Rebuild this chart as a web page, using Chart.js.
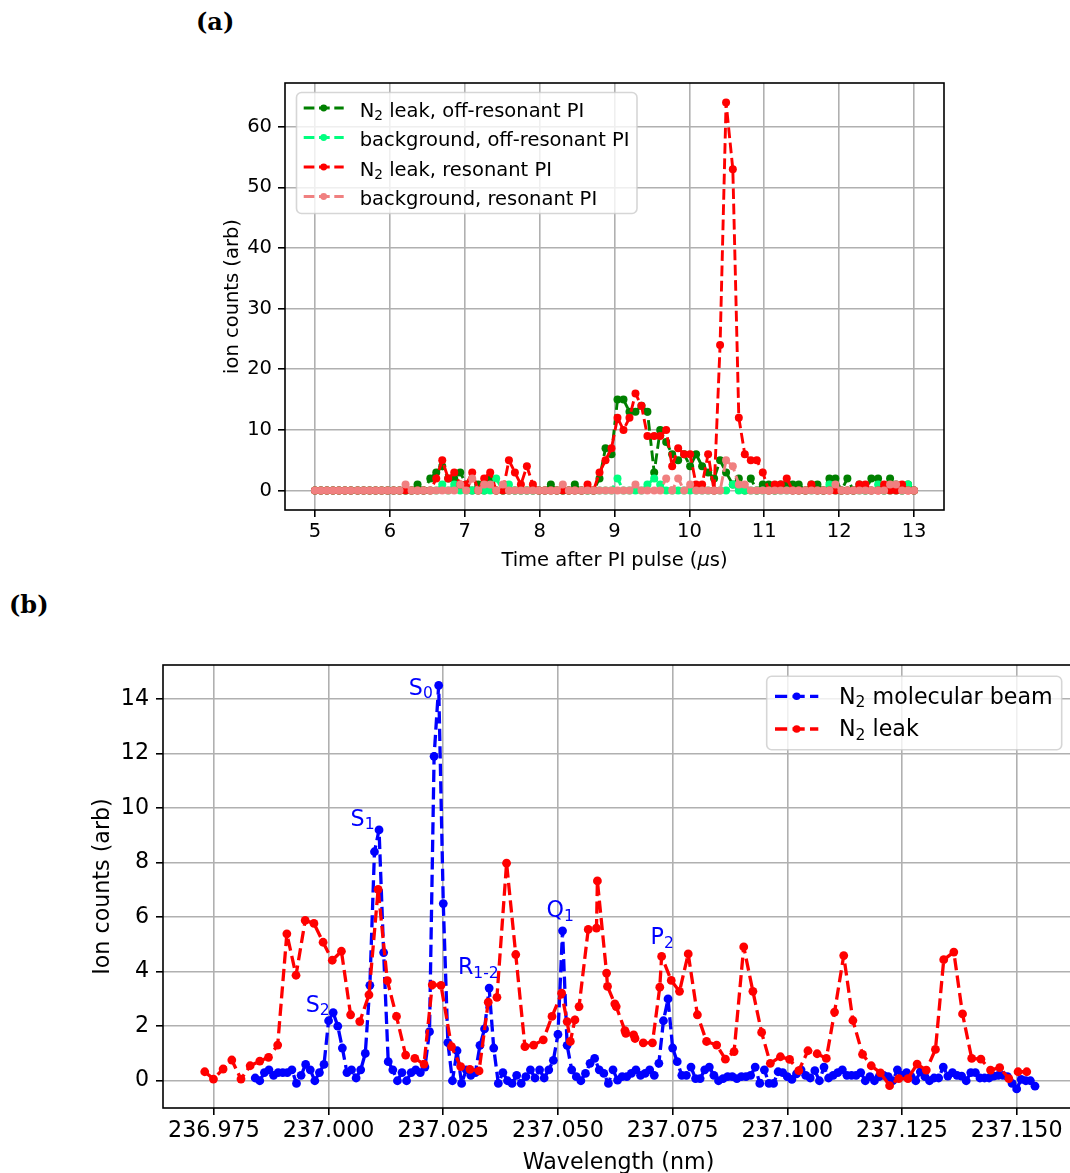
<!DOCTYPE html>
<html>
<head>
<meta charset="utf-8">
<script src="https://cdn.jsdelivr.net/npm/chart.js@4.4.1/dist/chart.umd.min.js"></script>
<style>
html, body { margin: 0; padding: 0; width: 1070px; height: 1173px; overflow: hidden; background: #fff; }
canvas { position: absolute; left: 0; }
#chartA { top: 0; }
#chartB { top: 590px; }
.panel { position: absolute; font: bold 24px "DejaVu Serif", serif; line-height: 28px; color: #000; }
</style>
</head>
<body>
<div class="panel" style="left:196px; top:8px;">(a)</div>
<div class="panel" style="left:9px; top:591px;">(b)</div>
<canvas id="chartA" width="1070" height="590"></canvas>
<canvas id="chartB" width="1100" height="583"></canvas>
<script>
// ---- (a) time of flight traces ----
const timeUs = [
  5.00, 5.08, 5.16, 5.24, 5.32, 5.40, 5.48, 5.57, 5.65, 5.73,
  5.81, 5.89, 5.97, 6.05, 6.13, 6.21, 6.29, 6.37, 6.45, 6.54,
  6.62, 6.70, 6.78, 6.86, 6.94, 7.02, 7.10, 7.18, 7.26, 7.34,
  7.42, 7.51, 7.59, 7.67, 7.75, 7.83, 7.91, 7.99, 8.07, 8.15,
  8.23, 8.31, 8.39, 8.47, 8.56, 8.64, 8.72, 8.80, 8.88, 8.96,
  9.04, 9.12, 9.20, 9.28, 9.36, 9.44, 9.53, 9.61, 9.69, 9.77,
  9.85, 9.93, 10.01, 10.09, 10.17, 10.25, 10.33, 10.41, 10.49, 10.58,
  10.66, 10.74, 10.82, 10.90, 10.98, 11.06, 11.14, 11.22, 11.30, 11.38,
  11.46, 11.55, 11.63, 11.71, 11.79, 11.87, 11.95, 12.03, 12.11, 12.19,
  12.27, 12.35, 12.43, 12.52, 12.60, 12.68, 12.76, 12.84, 12.92, 13.00
];
const offResLeak = [
  0, 0, 0, 0, 0, 0, 0, 0, 0, 0,
  0, 0, 0, 0, 0, 0, 0, 1, 0, 2,
  3, 4, 2, 2, 3, 1, 0, 1, 0, 2,
  0, 0, 0, 0, 0, 0, 0, 0, 0, 1,
  0, 0, 0, 1, 0, 0, 0, 2, 7, 6,
  15, 15, 13, 13, 14, 13, 3, 10, 8, 6,
  5, 6, 4, 6, 4, 3, 2, 5, 3, 1,
  2, 0, 2, 0, 1, 1, 0, 1, 1, 1,
  1, 0, 1, 1, 0, 2, 2, 0, 2, 0,
  1, 0, 2, 2, 0, 2, 1, 0, 1, 0
];
const offResBg = [
  0, 0, 0, 0, 0, 0, 0, 0, 0, 0,
  0, 0, 0, 0, 0, 0, 0, 0, 0, 0,
  0, 1, 0, 1, 0, 0, 0, 0, 0, 0,
  2, 0, 1, 0, 0, 0, 0, 0, 0, 0,
  0, 0, 0, 0, 0, 0, 0, 0, 0, 0,
  2, 0, 0, 0, 0, 1, 2, 1, 0, 0,
  0, 0, 0, 0, 0, 0, 0, 0, 0, 1,
  0, 0, 0, 0, 0, 0, 0, 0, 0, 0,
  0, 0, 0, 0, 0, 1, 0, 0, 0, 0,
  0, 0, 0, 1, 0, 0, 0, 0, 1, 0
];
const resLeak = [
  0, 0, 0, 0, 0, 0, 0, 0, 0, 0,
  0, 0, 0, 0, 0, 0, 0, 0, 0, 0,
  2, 5, 2, 3, 1, 1, 3, 0, 2, 3,
  0, 0, 5, 3, 1, 4, 1, 0, 0, 0,
  0, 0, 0, 0, 0, 1, 0, 3, 5, 7,
  12, 10, 12, 16, 14, 9, 9, 9, 10, 4,
  7, 6, 6, 1, 1, 6, 0, 24, 64, 53,
  12, 6, 5, 5, 3, 0, 1, 1, 2, 0,
  0, 0, 1, 0, 0, 0, 0, 0, 0, 0,
  1, 1, 0, 0, 1, 0, 0, 1, 0, 0
];
const resBg = [
  0, 0, 0, 0, 0, 0, 0, 0, 0, 0,
  0, 0, 0, 0, 0, 1, 0, 0, 0, 0,
  0, 0, 0, 0, 1, 0, 2, 0, 1, 1,
  0, 1, 0, 0, 0, 0, 0, 0, 0, 0,
  0, 1, 0, 0, 0, 0, 0, 0, 0, 0,
  0, 0, 0, 1, 0, 0, 0, 0, 2, 0,
  2, 0, 1, 0, 0, 0, 0, 0, 5, 4,
  1, 1, 0, 0, 0, 0, 0, 0, 0, 0,
  0, 0, 0, 0, 0, 0, 1, 0, 0, 0,
  0, 0, 0, 0, 0, 1, 1, 0, 0, 0
];
const timeTicks = [5, 6, 7, 8, 9, 10, 11, 12, 13];
const countTicksA = [0, 10, 20, 30, 40, 50, 60];

// ---- (b) wavelength scans ----
const beamWl = [
  236.984, 236.985, 236.986, 236.987, 236.988, 236.989, 236.990, 236.991, 236.992, 236.993,
  236.994, 236.995, 236.996, 236.997, 236.998, 236.999, 237.000, 237.001, 237.002, 237.003,
  237.004, 237.005, 237.006, 237.007, 237.008, 237.009, 237.010, 237.011, 237.012, 237.013,
  237.014, 237.015, 237.016, 237.017, 237.018, 237.019, 237.020, 237.021, 237.022, 237.023,
  237.024, 237.025, 237.026, 237.027, 237.028, 237.029, 237.030, 237.031, 237.032, 237.033,
  237.034, 237.035, 237.036, 237.037, 237.038, 237.039, 237.040, 237.041, 237.042, 237.043,
  237.044, 237.045, 237.046, 237.047, 237.048, 237.049, 237.050, 237.051, 237.052, 237.053,
  237.054, 237.055, 237.056, 237.057, 237.058, 237.059, 237.060, 237.061, 237.062, 237.063,
  237.064, 237.065, 237.066, 237.067, 237.068, 237.069, 237.070, 237.071, 237.072, 237.073,
  237.074, 237.075, 237.076, 237.077, 237.078, 237.079, 237.080, 237.081, 237.082, 237.083,
  237.084, 237.085, 237.086, 237.087, 237.088, 237.089, 237.090, 237.091, 237.092, 237.093,
  237.094, 237.095, 237.096, 237.097, 237.098, 237.099, 237.100, 237.101, 237.102, 237.103,
  237.104, 237.105, 237.106, 237.107, 237.108, 237.109, 237.110, 237.111, 237.112, 237.113,
  237.114, 237.115, 237.116, 237.117, 237.118, 237.119, 237.120, 237.121, 237.122, 237.123,
  237.124, 237.125, 237.126, 237.127, 237.128, 237.129, 237.130, 237.131, 237.132, 237.133,
  237.134, 237.135, 237.136, 237.137, 237.138, 237.139, 237.140, 237.141, 237.142, 237.143,
  237.144, 237.145, 237.146, 237.147, 237.148, 237.149, 237.150, 237.151, 237.152, 237.153,
  237.154
];
const beamCounts = [
  0.10, 0.00, 0.30, 0.40, 0.20, 0.30, 0.30, 0.30, 0.40, -0.10,
  0.20, 0.60, 0.40, 0.00, 0.30, 0.60, 2.20, 2.50, 2.00, 1.20,
  0.30, 0.40, 0.10, 0.40, 1.00, 3.50, 8.40, 9.20, 4.70, 0.70,
  0.40, 0.00, 0.30, 0.00, 0.30, 0.40, 0.30, 0.50, 1.80, 11.90,
  14.50, 6.50, 1.40, 0.00, 1.10, -0.10, 0.40, 0.20, 0.30, 1.30,
  1.90, 3.40, 1.20, -0.10, 0.30, 0.00, -0.10, 0.20, -0.10, 0.15,
  0.40, 0.10, 0.40, 0.10, 0.40, 0.75, 1.70, 5.50, 1.30, 0.40,
  0.15, 0.00, 0.27, 0.64, 0.82, 0.40, 0.27, -0.10, 0.40, 0.02,
  0.15, 0.15, 0.27, 0.40, 0.20, 0.27, 0.40, 0.20, 0.64, 2.20,
  3.00, 1.20, 0.70, 0.20, 0.20, 0.50, 0.08, 0.08, 0.40, 0.50,
  0.20, 0.00, 0.08, 0.15, 0.15, 0.08, 0.15, 0.15, 0.20, 0.50,
  -0.10, 0.40, -0.10, -0.10, 0.33, 0.30, 0.15, 0.05, 0.25, 0.40,
  0.20, 0.10, 0.37, 0.00, 0.50, 0.10, 0.20, 0.30, 0.40, 0.20,
  0.20, 0.20, 0.30, 0.00, 0.15, 0.00, 0.15, 0.20, 0.15, 0.00,
  0.40, 0.20, 0.30, 0.15, 0.00, 0.33, 0.15, 0.00, 0.10, 0.10,
  0.50, 0.17, 0.30, 0.20, 0.17, 0.00, 0.30, 0.30, 0.10, 0.10,
  0.10, 0.17, 0.20, 0.20, 0.15, -0.10, -0.30, 0.05, 0.00, 0.00,
  -0.20
];
const leakWl = [
  236.9730, 236.9749, 236.9770, 236.9789, 236.9809, 236.9829, 236.9850, 236.9869, 236.9889, 236.9909,
  236.9929, 236.9949, 236.9968, 236.9988, 237.0008, 237.0028, 237.0048, 237.0068, 237.0088, 237.0108,
  237.0128, 237.0148, 237.0168, 237.0188, 237.0208, 237.0226, 237.0245, 237.0268, 237.0288, 237.0308,
  237.0328, 237.0348, 237.0367, 237.0388, 237.0408, 237.0428, 237.0447, 237.0468, 237.0487, 237.0508,
  237.0520, 237.0527, 237.0537, 237.0546, 237.0566, 237.0584, 237.0586, 237.0606, 237.0608, 237.0624,
  237.0627, 237.0646, 237.0648, 237.0665, 237.0668, 237.0686, 237.0706, 237.0722, 237.0726, 237.0747,
  237.0765, 237.0784, 237.0804, 237.0824, 237.0846, 237.0865, 237.0884, 237.0905, 237.0925, 237.0944,
  237.0963, 237.0985, 237.1005, 237.1025, 237.1045, 237.1065, 237.1085, 237.1103, 237.1123, 237.1143,
  237.1164, 237.1183, 237.1203, 237.1223, 237.1243, 237.1263, 237.1283, 237.1303, 237.1323, 237.1341,
  237.1363, 237.1382, 237.1402, 237.1422, 237.1443, 237.1463, 237.1483, 237.1503, 237.1522
];
const leakCounts = [
  0.33, 0.06, 0.43, 0.76, 0.06, 0.55, 0.72, 0.86, 1.31, 5.39,
  3.87, 5.88, 5.77, 5.08, 4.42, 4.75, 2.42, 2.17, 3.15, 7.02,
  3.67, 2.36, 0.94, 0.82, 0.61, 3.52, 3.50, 1.25, 0.52, 0.42,
  0.36, 2.88, 3.06, 7.98, 4.63, 1.25, 1.31, 1.50, 2.36, 3.21,
  2.17, 1.44, 2.23, 2.72, 5.55, 5.60, 7.33, 3.95, 3.46, 2.82,
  2.72, 1.84, 1.74, 1.68, 1.55, 1.39, 1.39, 3.43, 4.56, 3.68,
  3.28, 4.65, 2.42, 1.44, 1.31, 0.79, 1.07, 4.91, 3.28, 1.77,
  0.64, 0.88, 0.78, 0.37, 1.10, 0.99, 0.82, 2.52, 4.59, 2.21,
  0.97, 0.55, 0.29, -0.18, 0.08, 0.08, 0.61, 0.39, 1.15, 4.44,
  4.72, 2.45, 0.82, 0.79, 0.39, 0.48, 0.08, 0.33, 0.33
];
const wlTicks = [236.975, 237.000, 237.025, 237.050, 237.075, 237.100, 237.125, 237.150];
const countTicksB = [0, 2, 4, 6, 8, 10, 12, 14];

// line names next to the beam peaks, placed at (left wavelength, centre counts)
const peakNames = ['S_{2}', 'S_{1}', 'S_{0}', 'R_{1-2}', 'Q_{1}', 'P_{2}'];
const peakNameWl = [236.9950, 237.0048, 237.0175, 237.0282, 237.0475, 237.0702];
const peakNameY = [2.82, 9.65, 14.45, 4.2, 6.3, 5.3];

const FONT = '"DejaVu Sans", sans-serif';

function fontStr(size, italic) {
  return (italic ? 'italic ' : '') + size + 'px ' + FONT;
}

// "N_{2} leak" -> runs of plain / subscript / *italic* text
function parseRuns(s) {
  const out = [];
  const re = /_\{([^}]*)\}|\*([^*]*)\*/g;
  let last = 0, m;
  while ((m = re.exec(s))) {
    if (m.index > last) out.push({ t: s.slice(last, m.index) });
    if (m[1] !== undefined) out.push({ t: m[1], sub: true });
    else out.push({ t: m[2], it: true });
    last = re.lastIndex;
  }
  if (last < s.length) out.push({ t: s.slice(last) });
  return out;
}

function drawRuns(ctx, text, x, y, size, color, align) {
  const runs = parseRuns(text);
  ctx.save();
  ctx.fillStyle = color;
  ctx.textBaseline = 'alphabetic';
  ctx.textAlign = 'left';
  let total = 0;
  const widths = runs.map(r => {
    ctx.font = fontStr(r.sub ? size * 0.7 : size, r.it);
    const w = ctx.measureText(r.t).width;
    total += w;
    return w;
  });
  let cx = align === 'center' ? x - total / 2 : align === 'right' ? x - total : x;
  runs.forEach((r, i) => {
    ctx.font = fontStr(r.sub ? size * 0.7 : size, r.it);
    ctx.fillText(r.t, cx, r.sub ? y + size * 0.16 : y);
    cx += widths[i];
  });
  ctx.restore();
}

function roundRectPath(ctx, x, y, w, h, r) {
  ctx.beginPath();
  ctx.moveTo(x + r, y);
  ctx.lineTo(x + w - r, y);
  ctx.arcTo(x + w, y, x + w, y + r, r);
  ctx.lineTo(x + w, y + h - r);
  ctx.arcTo(x + w, y + h, x + w - r, y + h, r);
  ctx.lineTo(x + r, y + h);
  ctx.arcTo(x, y + h, x, y + h - r, r);
  ctx.lineTo(x, y + r);
  ctx.arcTo(x, y, x + r, y, r);
  ctx.closePath();
}

// black box round the plot area, drawn over the data like matplotlib spines
const framePlugin = {
  id: 'frame',
  afterDatasetsDraw(chart) {
    const a = chart.chartArea, ctx = chart.ctx;
    ctx.save();
    ctx.strokeStyle = '#000';
    ctx.lineWidth = 1.6;
    ctx.strokeRect(a.left, a.top, a.right - a.left, a.bottom - a.top);
    ctx.restore();
  }
};

function axisTitlePlugin(cfg) {
  return {
    id: 'axisTitles',
    afterDraw(chart) {
      const a = chart.chartArea, ctx = chart.ctx;
      drawRuns(ctx, cfg.x, (a.left + a.right) / 2, cfg.xBase, cfg.size, '#000', 'center');
      ctx.save();
      ctx.translate(cfg.yBase, (a.top + a.bottom) / 2);
      ctx.rotate(-Math.PI / 2);
      drawRuns(ctx, cfg.y, 0, 0, cfg.size, '#000', 'center');
      ctx.restore();
    }
  };
}

function legendPlugin(cfg) {
  return {
    id: 'boxLegend',
    afterDraw(chart) {
      const ctx = chart.ctx, b = cfg.box;
      ctx.save();
      roundRectPath(ctx, b.x, b.y, b.w, b.h, 5);
      ctx.fillStyle = 'rgba(255,255,255,0.8)';
      ctx.fill();
      ctx.strokeStyle = 'rgba(204,204,204,0.8)';
      ctx.lineWidth = 1.6;
      ctx.stroke();
      chart.data.datasets.forEach((ds, i) => {
        const y = cfg.rowY[i];
        ctx.beginPath();
        ctx.setLineDash(ds.borderDash);
        ctx.strokeStyle = ds.borderColor;
        ctx.lineWidth = ds.borderWidth;
        ctx.moveTo(cfg.lineX[0], y);
        ctx.lineTo(cfg.lineX[1], y);
        ctx.stroke();
        ctx.setLineDash([]);
        ctx.beginPath();
        ctx.arc((cfg.lineX[0] + cfg.lineX[1]) / 2, y, cfg.dot, 0, Math.PI * 2);
        ctx.fillStyle = ds.borderColor;
        ctx.fill();
        drawRuns(ctx, ds.label, cfg.textX, y + cfg.baseOff, cfg.size, '#000', 'left');
      });
      ctx.restore();
    }
  };
}

function series(label, xs, ys, color, lw, dash, radius, order) {
  return {
    label: label,
    data: xs.map((x, i) => ({ x: x, y: ys[i] })),
    borderColor: color,
    backgroundColor: color,
    borderWidth: lw,
    borderDash: dash,
    borderJoinStyle: 'round',
    borderCapStyle: 'butt',
    pointRadius: radius,
    pointBorderWidth: 0,
    pointBackgroundColor: color,
    pointHoverRadius: radius,
    tension: 0,
    fill: false,
    order: order
  };
}

function axis(min, max, ticks, fmt, size, pad, fit) {
  return {
    type: 'linear',
    min: min,
    max: max,
    afterBuildTicks: s => { s.ticks = ticks.map(v => ({ value: v })); },
    afterFit: fit,
    ticks: {
      autoSkip: false,
      maxRotation: 0,
      minRotation: 0,
      padding: pad,
      color: '#000',
      font: { family: FONT, size: size },
      callback: fmt
    },
    grid: {
      color: '#b0b0b0',
      lineWidth: 1.6,
      drawTicks: true,
      tickLength: 7,
      tickColor: '#000',
      tickWidth: 1.6
    },
    border: { display: false }
  };
}

// ---- chart (a) ----
const FA = 19.5;
const LWA = 2.9;
const DASHA = [10.7, 4.6];
new Chart(document.getElementById('chartA'), {
  type: 'line',
  data: {
    datasets: [
      series('N_{2} leak, off-resonant PI', timeUs, offResLeak, 'green', LWA, DASHA, 4, 4),
      series('background, off-resonant PI', timeUs, offResBg, 'springgreen', LWA, DASHA, 4, 3),
      series('N_{2} leak, resonant PI', timeUs, resLeak, 'red', LWA, DASHA, 4, 2),
      series('background, resonant PI', timeUs, resBg, 'lightcoral', LWA, DASHA, 4, 1)
    ]
  },
  options: {
    responsive: false,
    animation: false,
    devicePixelRatio: 1,
    layout: { padding: { left: 285 - 60, right: 1070 - 944, top: 83, bottom: 590 - 510 - 40 } },
    plugins: { legend: { display: false }, tooltip: { enabled: false } },
    scales: {
      x: axis(4.6, 13.4, timeTicks, v => String(v), FA, 3, s => { s.height = 40; }),
      y: axis(-3.2, 67.2, countTicksA, v => String(v), FA, 6, s => { s.width = 60; })
    }
  },
  plugins: [
    framePlugin,
    axisTitlePlugin({ x: 'Time after PI pulse (*\u03bc*s)', y: 'ion counts (arb)', xBase: 566, yBase: 238, size: FA }),
    legendPlugin({
      box: { x: 296.5, y: 92.5, w: 340.5, h: 121 },
      rowY: [108, 137.5, 167, 196.5],
      lineX: [303.7, 343.7],
      dot: 3.4,
      textX: 359.7,
      baseOff: 8.5,
      size: FA
    })
  ]
});

// ---- chart (b) ----
const FB = 22.2;
const LWB = 3.3;
const DASHB = [12.2, 5.3];
const namePlugin = {
  id: 'peakNames',
  afterDatasetsDraw(chart) {
    const sx = chart.scales.x, sy = chart.scales.y;
    peakNames.forEach((name, i) => {
      drawRuns(chart.ctx, name, sx.getPixelForValue(peakNameWl[i]),
        sy.getPixelForValue(peakNameY[i]) + 0.36 * FB, FB, 'blue', 'left');
    });
  }
};
new Chart(document.getElementById('chartB'), {
  type: 'line',
  data: {
    datasets: [
      series('N_{2} molecular beam', beamWl, beamCounts, 'blue', LWB, DASHB, 4.4, 2),
      series('N_{2} leak', leakWl, leakCounts, 'red', LWB, DASHB, 4.4, 1)
    ]
  },
  options: {
    responsive: false,
    animation: false,
    devicePixelRatio: 1,
    layout: { padding: { left: 163 - 70, right: 1100 - 1074, top: 75, bottom: 583 - 518 - 40 } },
    plugins: { legend: { display: false }, tooltip: { enabled: false } },
    scales: {
      x: axis(236.9639, 237.1625, wlTicks, v => v.toFixed(3), FB, 3, s => { s.height = 40; }),
      y: axis(-1.0, 15.25, countTicksB, v => String(v), FB, 7, s => { s.width = 70; })
    }
  },
  plugins: [
    framePlugin,
    namePlugin,
    axisTitlePlugin({ x: 'Wavelength (nm)', y: 'Ion counts (arb)', xBase: 579, yBase: 109, size: FB }),
    legendPlugin({
      box: { x: 766.7, y: 86.3, w: 295, h: 73.4 },
      rowY: [106.3, 139],
      lineX: [775, 818.3],
      dot: 3.8,
      textX: 839,
      baseOff: 7.4,
      size: FB
    })
  ]
});
</script>
</body>
</html>
